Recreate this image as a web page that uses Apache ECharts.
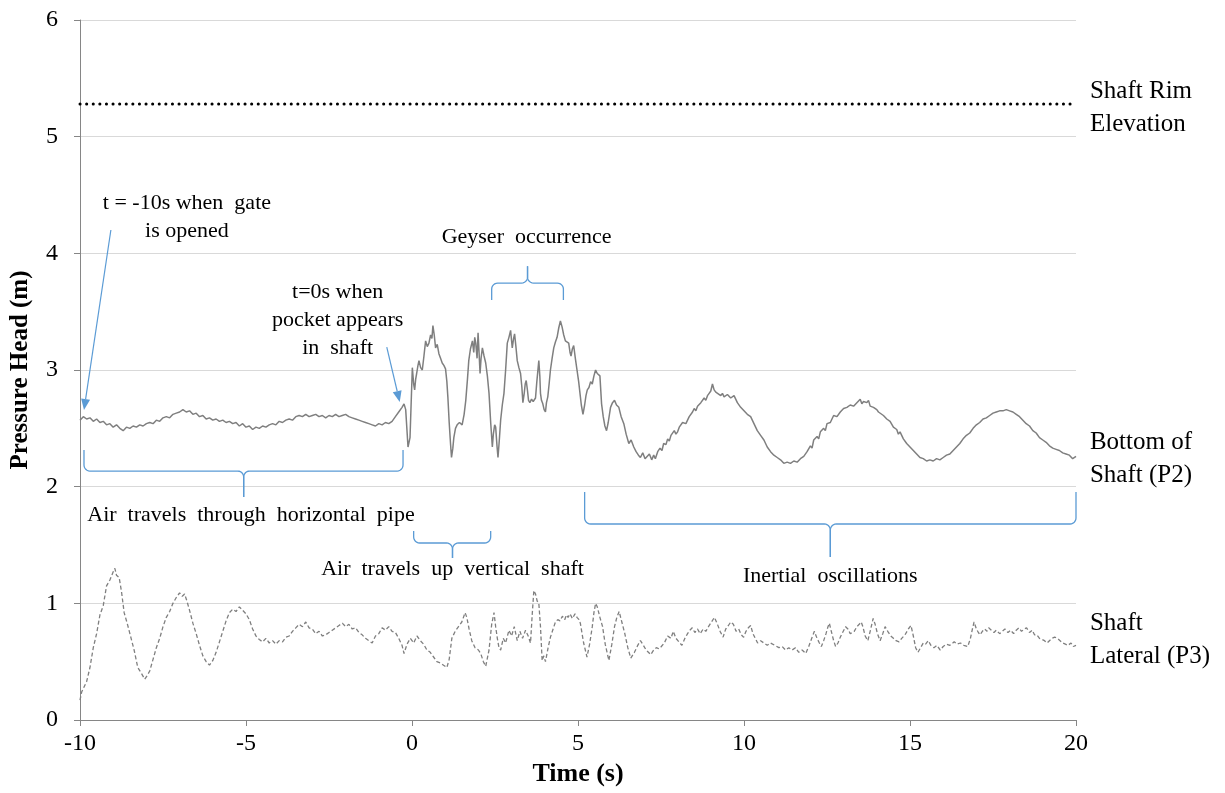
<!DOCTYPE html>
<html>
<head>
<meta charset="utf-8">
<script src="https://cdn.jsdelivr.net/npm/echarts@6/dist/echarts.min.js"></script>
<style>
  html, body { margin: 0; padding: 0; background: #ffffff; }
  #chart { width: 1225px; height: 793px; }
</style>
</head>
<body>
<div id="chart"></div>
<script>
// Pressure head records during the geyser test (time in s, head in m)
const rimElevation = 5.28;

const bottomOfShaftP2 = [
  [-10.0,2.57],[-9.9,2.60],[-9.8,2.58],[-9.7,2.59],[-9.6,2.56],[-9.5,2.58],[-9.4,2.55],[-9.3,2.56],[-9.2,2.53],[-9.1,2.54],
  [-9.0,2.51],[-8.9,2.53],[-8.8,2.50],[-8.7,2.48],[-8.6,2.51],[-8.5,2.50],[-8.4,2.52],[-8.3,2.51],[-8.2,2.53],[-8.1,2.52],
  [-8.0,2.54],[-7.9,2.55],[-7.8,2.54],[-7.7,2.57],[-7.6,2.56],[-7.5,2.59],[-7.4,2.60],[-7.3,2.59],[-7.2,2.62],[-7.1,2.63],
  [-7.0,2.64],[-6.9,2.66],[-6.8,2.64],[-6.7,2.65],[-6.6,2.62],[-6.5,2.63],[-6.4,2.60],[-6.3,2.61],[-6.2,2.58],[-6.1,2.59],
  [-6.0,2.57],[-5.9,2.58],[-5.8,2.56],[-5.7,2.57],[-5.6,2.55],[-5.5,2.56],[-5.4,2.54],[-5.3,2.55],[-5.2,2.52],[-5.1,2.54],
  [-5.0,2.51],[-4.9,2.52],[-4.8,2.49],[-4.7,2.51],[-4.6,2.50],[-4.5,2.52],[-4.4,2.51],[-4.3,2.53],[-4.2,2.54],[-4.1,2.53],
  [-4.0,2.56],[-3.9,2.55],[-3.8,2.57],[-3.7,2.58],[-3.6,2.57],[-3.5,2.60],[-3.4,2.61],[-3.3,2.60],[-3.2,2.62],[-3.1,2.60],
  [-3.0,2.61],[-2.9,2.62],[-2.8,2.60],[-2.7,2.61],[-2.6,2.59],[-2.5,2.61],[-2.4,2.60],[-2.3,2.62],[-2.2,2.60],[-2.1,2.61],
  [-2.0,2.62],[-1.9,2.60],[-1.8,2.59],[-1.7,2.58],[-1.6,2.57],[-1.5,2.56],[-1.4,2.55],[-1.3,2.54],[-1.2,2.53],[-1.1,2.52],
  [-1.0,2.54],[-0.9,2.53],[-0.8,2.55],[-0.7,2.54],[-0.6,2.56],[-0.5,2.60],[-0.4,2.64],[-0.3,2.68],[-0.24,2.71],[-0.19,2.66],
  [-0.12,2.34],[-0.06,2.42],[0.01,3.02],[0.05,2.88],[0.08,2.83],[0.11,2.92],[0.14,2.97],[0.18,3.04],[0.21,3.08],[0.26,3.02],
  [0.31,3.00],[0.36,3.12],[0.41,3.25],[0.46,3.20],[0.51,3.23],[0.56,3.30],[0.60,3.27],[0.63,3.38],[0.67,3.30],[0.71,3.19],
  [0.76,3.22],[0.81,3.14],[0.86,3.10],[0.91,3.06],[0.96,3.04],[1.01,3.01],[1.05,2.90],[1.08,2.77],[1.12,2.55],[1.16,2.37],
  [1.19,2.25],[1.23,2.33],[1.26,2.42],[1.31,2.50],[1.36,2.53],[1.43,2.55],[1.51,2.53],[1.57,2.62],[1.62,2.74],[1.67,2.92],
  [1.71,3.08],[1.76,3.18],[1.82,3.25],[1.86,3.15],[1.89,3.28],[1.92,3.23],[1.96,3.10],[1.99,3.32],[2.02,3.15],[2.05,2.97],
  [2.08,3.10],[2.12,3.19],[2.17,3.12],[2.22,3.06],[2.27,2.95],[2.32,2.80],[2.37,2.55],[2.42,2.34],[2.45,2.45],[2.49,2.53],
  [2.52,2.51],[2.56,2.35],[2.59,2.25],[2.63,2.40],[2.67,2.57],[2.72,2.70],[2.77,2.80],[2.82,3.00],[2.87,3.23],[2.92,3.28],
  [2.97,3.34],[3.00,3.25],[3.02,3.19],[3.06,3.27],[3.09,3.31],[3.13,3.20],[3.17,3.08],[3.22,3.02],[3.27,2.97],[3.31,2.85],
  [3.34,2.72],[3.38,2.80],[3.41,2.88],[3.44,2.91],[3.48,2.82],[3.51,2.74],[3.55,2.72],[3.60,2.75],[3.65,2.73],[3.72,2.76],
  [3.76,2.90],[3.80,3.02],[3.82,3.08],[3.85,2.95],[3.87,2.80],[3.90,2.74],[3.94,2.71],[3.98,2.66],[4.02,2.64],[4.05,2.72],
  [4.09,2.77],[4.13,2.88],[4.17,3.00],[4.22,3.10],[4.27,3.19],[4.32,3.24],[4.37,3.28],[4.42,3.36],[4.47,3.42],[4.50,3.41],
  [4.52,3.37],[4.57,3.30],[4.62,3.25],[4.67,3.26],[4.72,3.23],[4.76,3.15],[4.79,3.12],[4.83,3.18],[4.87,3.21],[4.92,3.10],
  [4.97,3.00],[5.02,2.90],[5.06,2.80],[5.10,2.70],[5.15,2.62],[5.20,2.70],[5.24,2.78],[5.28,2.83],[5.33,2.85],[5.38,2.90],
  [5.43,2.88],[5.48,2.95],[5.53,3.00],[5.58,2.97],[5.63,2.98],[5.66,2.95],[5.71,2.71],[5.76,2.60],[5.81,2.52],[5.86,2.48],
  [5.91,2.55],[5.98,2.68],[6.04,2.72],[6.10,2.74],[6.16,2.70],[6.23,2.68],[6.30,2.60],[6.38,2.54],[6.45,2.45],[6.53,2.37],
  [6.60,2.40],[6.68,2.34],[6.75,2.30],[6.82,2.27],[6.88,2.25],[6.95,2.29],[7.02,2.24],[7.08,2.25],[7.15,2.28],[7.22,2.23],
  [7.28,2.27],[7.33,2.24],[7.40,2.30],[7.47,2.33],[7.53,2.31],[7.58,2.37],[7.65,2.36],[7.7,2.41],[7.75,2.39],[7.8,2.44],
  [7.85,2.43],[7.9,2.48],[7.95,2.45],[8.0,2.47],[8.05,2.51],[8.1,2.50],[8.15,2.55],[8.2,2.56],[8.25,2.54],[8.3,2.57],
  [8.35,2.60],[8.4,2.59],[8.45,2.64],[8.5,2.67],[8.55,2.65],[8.6,2.69],[8.65,2.68],[8.7,2.72],[8.75,2.71],[8.8,2.76],
  [8.85,2.74],[8.9,2.78],[8.95,2.80],[9.0,2.82],[9.05,2.88],[9.1,2.83],[9.15,2.81],[9.2,2.80],[9.3,2.78],[9.35,2.80],
  [9.4,2.77],[9.5,2.79],[9.6,2.76],[9.7,2.78],[9.75,2.75],[9.8,2.72],[9.9,2.68],[10.0,2.65],[10.05,2.64],[10.1,2.62],
  [10.2,2.60],[10.3,2.54],[10.4,2.48],[10.5,2.44],[10.6,2.40],[10.7,2.34],[10.8,2.30],[10.85,2.31],[10.9,2.27],[11.0,2.25],
  [11.1,2.23],[11.2,2.20],[11.3,2.21],[11.4,2.20],[11.5,2.22],[11.6,2.21],[11.7,2.24],[11.8,2.26],[11.9,2.30],[12.0,2.35],
  [12.05,2.33],[12.1,2.40],[12.2,2.43],[12.25,2.41],[12.3,2.47],[12.4,2.50],[12.45,2.48],[12.5,2.54],[12.6,2.55],[12.65,2.58],
  [12.7,2.61],[12.8,2.60],[12.9,2.64],[13.0,2.67],[13.05,2.66],[13.1,2.68],[13.2,2.70],[13.3,2.69],[13.4,2.72],[13.5,2.75],
  [13.55,2.71],[13.6,2.73],[13.7,2.72],[13.75,2.74],[13.8,2.69],[13.9,2.68],[14.0,2.66],[14.05,2.64],[14.1,2.65],[14.2,2.61],
  [14.3,2.58],[14.4,2.56],[14.5,2.51],[14.6,2.49],[14.65,2.45],[14.7,2.47],[14.8,2.41],[14.9,2.37],[15.0,2.34],[15.1,2.31],
  [15.2,2.28],[15.3,2.25],[15.4,2.24],[15.5,2.22],[15.6,2.23],[15.7,2.22],[15.8,2.24],[15.9,2.23],[16.0,2.25],[16.1,2.27],
  [16.2,2.28],[16.3,2.31],[16.4,2.34],[16.5,2.37],[16.6,2.41],[16.7,2.44],[16.8,2.46],[16.9,2.50],[17.0,2.53],[17.1,2.55],
  [17.2,2.58],[17.3,2.59],[17.4,2.61],[17.5,2.63],[17.6,2.64],[17.7,2.65],[17.8,2.65],[17.9,2.66],[18.0,2.65],[18.1,2.64],
  [18.2,2.62],[18.3,2.60],[18.4,2.57],[18.5,2.54],[18.6,2.52],[18.7,2.48],[18.8,2.46],[18.9,2.42],[19.0,2.40],[19.1,2.38],
  [19.2,2.35],[19.3,2.33],[19.4,2.32],[19.5,2.31],[19.6,2.29],[19.7,2.28],[19.8,2.27],[19.9,2.24],[20.0,2.26]
];

const shaftLateralP3 = [
  [-10.0,0.17],[-9.95,0.24],[-9.9,0.27],[-9.8,0.33],[-9.7,0.45],[-9.6,0.62],[-9.5,0.74],[-9.4,0.90],[-9.3,0.98],[-9.2,1.15],
  [-9.1,1.20],[-9.0,1.27],[-8.95,1.30],[-8.9,1.24],[-8.82,1.22],[-8.75,1.10],[-8.67,0.92],[-8.57,0.82],[-8.47,0.71],[-8.37,0.60],
  [-8.26,0.45],[-8.15,0.40],[-8.05,0.35],[-7.98,0.38],[-7.9,0.42],[-7.8,0.52],[-7.7,0.62],[-7.6,0.70],[-7.5,0.80],[-7.4,0.88],
  [-7.3,0.93],[-7.2,1.00],[-7.1,1.05],[-7.0,1.09],[-6.92,1.06],[-6.85,1.08],[-6.78,1.02],[-6.7,0.94],[-6.6,0.83],[-6.5,0.74],
  [-6.4,0.64],[-6.3,0.55],[-6.2,0.50],[-6.1,0.47],[-6.0,0.51],[-5.9,0.58],[-5.8,0.67],[-5.7,0.76],[-5.6,0.85],[-5.5,0.92],
  [-5.4,0.95],[-5.3,0.93],[-5.2,0.97],[-5.1,0.94],[-5.0,0.91],[-4.9,0.86],[-4.8,0.78],[-4.7,0.72],[-4.6,0.69],[-4.5,0.67],
  [-4.4,0.70],[-4.3,0.66],[-4.2,0.68],[-4.1,0.65],[-4.0,0.68],[-3.9,0.67],[-3.8,0.71],[-3.7,0.72],[-3.6,0.76],[-3.5,0.79],
  [-3.4,0.82],[-3.3,0.80],[-3.2,0.84],[-3.1,0.79],[-3.0,0.78],[-2.9,0.74],[-2.8,0.76],[-2.7,0.72],[-2.6,0.73],[-2.5,0.75],
  [-2.4,0.77],[-2.3,0.79],[-2.2,0.81],[-2.1,0.83],[-2.0,0.80],[-1.9,0.82],[-1.8,0.78],[-1.7,0.79],[-1.6,0.75],[-1.5,0.73],
  [-1.4,0.70],[-1.3,0.68],[-1.2,0.66],[-1.1,0.72],[-1.0,0.74],[-0.9,0.79],[-0.8,0.77],[-0.7,0.80],[-0.6,0.76],[-0.5,0.75],
  [-0.4,0.70],[-0.3,0.64],[-0.24,0.57],[-0.15,0.65],[-0.05,0.70],[0.05,0.66],[0.15,0.72],[0.25,0.68],[0.35,0.65],[0.45,0.60],
  [0.55,0.58],[0.65,0.54],[0.75,0.50],[0.85,0.49],[0.95,0.47],[1.05,0.45],[1.12,0.52],[1.2,0.70],[1.3,0.76],[1.4,0.80],
  [1.5,0.84],[1.6,0.92],[1.65,0.88],[1.72,0.78],[1.8,0.68],[1.9,0.62],[2.0,0.60],[2.07,0.57],[2.15,0.50],[2.22,0.46],
  [2.27,0.45],[2.32,0.60],[2.4,0.82],[2.47,0.92],[2.52,0.80],[2.57,0.70],[2.62,0.62],[2.67,0.60],[2.75,0.70],[2.82,0.66],
  [2.92,0.77],[3.0,0.72],[3.08,0.80],[3.17,0.68],[3.25,0.76],[3.33,0.70],[3.42,0.77],[3.5,0.72],[3.57,0.66],[3.62,0.90],
  [3.67,1.11],[3.72,1.08],[3.77,1.02],[3.82,1.00],[3.87,0.80],[3.92,0.51],[3.97,0.55],[4.02,0.50],[4.1,0.62],[4.17,0.71],
  [4.25,0.78],[4.32,0.84],[4.39,0.86],[4.46,0.85],[4.53,0.89],[4.6,0.86],[4.65,0.90],[4.70,0.88],[4.76,0.91],[4.83,0.87],
  [4.91,0.91],[4.97,0.88],[5.03,0.86],[5.07,0.83],[5.17,0.66],[5.27,0.54],[5.35,0.65],[5.43,0.80],[5.48,0.92],[5.53,1.00],
  [5.58,0.97],[5.66,0.88],[5.74,0.80],[5.82,0.65],[5.93,0.51],[6.02,0.65],[6.10,0.80],[6.17,0.88],[6.24,0.93],[6.32,0.84],
  [6.41,0.74],[6.5,0.62],[6.59,0.53],[6.7,0.58],[6.8,0.64],[6.88,0.68],[6.97,0.64],[7.05,0.60],[7.12,0.58],[7.19,0.56],
  [7.28,0.60],[7.36,0.62],[7.44,0.61],[7.51,0.63],[7.6,0.66],[7.7,0.72],[7.8,0.70],[7.87,0.76],[7.95,0.70],[8.04,0.67],
  [8.13,0.64],[8.22,0.70],[8.3,0.74],[8.37,0.77],[8.44,0.79],[8.52,0.75],[8.6,0.78],[8.68,0.74],[8.77,0.78],[8.85,0.76],
  [8.93,0.80],[9.02,0.84],[9.11,0.88],[9.2,0.82],[9.28,0.76],[9.37,0.71],[9.45,0.78],[9.53,0.81],[9.6,0.84],[9.68,0.82],
  [9.76,0.76],[9.84,0.78],[9.92,0.73],[9.99,0.71],[10.06,0.76],[10.13,0.79],[10.2,0.81],[10.27,0.74],[10.34,0.70],[10.41,0.66],
  [10.5,0.68],[10.6,0.66],[10.7,0.64],[10.8,0.66],[10.93,0.64],[11.05,0.62],[11.15,0.63],[11.25,0.60],[11.35,0.62],[11.45,0.60],
  [11.55,0.62],[11.65,0.58],[11.75,0.60],[11.86,0.57],[11.95,0.63],[12.04,0.70],[12.12,0.76],[12.2,0.70],[12.27,0.66],[12.33,0.63],
  [12.4,0.68],[12.47,0.74],[12.53,0.80],[12.57,0.83],[12.63,0.76],[12.7,0.68],[12.76,0.63],[12.83,0.66],[12.9,0.71],[12.97,0.75],
  [13.06,0.80],[13.13,0.78],[13.2,0.74],[13.26,0.73],[13.32,0.76],[13.4,0.80],[13.47,0.82],[13.53,0.84],[13.58,0.80],[13.65,0.72],
  [13.73,0.68],[13.8,0.76],[13.89,0.87],[13.95,0.82],[14.02,0.74],[14.1,0.68],[14.18,0.74],[14.25,0.80],[14.33,0.76],[14.42,0.72],
  [14.5,0.70],[14.58,0.68],[14.67,0.67],[14.75,0.70],[14.85,0.73],[14.95,0.78],[15.03,0.81],[15.1,0.72],[15.17,0.62],[15.24,0.58],
  [15.32,0.62],[15.4,0.66],[15.47,0.65],[15.55,0.68],[15.63,0.64],[15.72,0.62],[15.81,0.64],[15.91,0.60],[16.0,0.63],[16.1,0.65],
  [16.2,0.64],[16.33,0.67],[16.42,0.65],[16.52,0.66],[16.62,0.64],[16.74,0.63],[16.82,0.70],[16.88,0.78],[16.93,0.84],[17.0,0.78],
  [17.06,0.75],[17.11,0.73],[17.18,0.76],[17.25,0.78],[17.32,0.76],[17.37,0.79],[17.45,0.77],[17.53,0.75],[17.6,0.77],[17.7,0.74],
  [17.78,0.76],[17.86,0.78],[17.95,0.75],[18.03,0.77],[18.12,0.74],[18.2,0.77],[18.28,0.79],[18.36,0.76],[18.44,0.78],[18.51,0.79],
  [18.6,0.75],[18.68,0.77],[18.75,0.73],[18.82,0.73],[18.9,0.70],[18.98,0.69],[19.05,0.68],[19.13,0.66],[19.2,0.68],[19.28,0.70],
  [19.36,0.71],[19.44,0.70],[19.52,0.68],[19.6,0.66],[19.68,0.65],[19.76,0.64],[19.85,0.66],[19.92,0.63],[20.0,0.64]
];

// Series labels drawn beside the right end of the plot
const seriesLabels = [
  { text: 'Shaft Rim\nElevation', t: 20.42, v: 5.245 },
  { text: 'Bottom of\nShaft (P2)', t: 20.42, v: 2.237 },
  { text: 'Shaft\nLateral (P3)', t: 20.42, v: 0.686 }
];

// Callout texts (anchored at their centre, in data units)
const callouts = [
  { text: 't = -10s when  gate\nis opened', t: -6.78, v: 4.31 },
  { text: 't=0s when\npocket appears\nin  shaft', t: -2.24, v: 3.43 },
  { text: 'Geyser  occurrence', t: 3.45, v: 4.14 },
  { text: 'Air  travels  through  horizontal  pipe', t: -4.85, v: 1.757 },
  { text: 'Air  travels  up  vertical  shaft', t: 1.22, v: 1.294 },
  { text: 'Inertial  oscillations', t: 12.6, v: 1.234 }
];

// Curly braces marking phases: ends at tEnd1/tEnd2, bar at vBar, tip at (tMid, vTip)
const braces = [
  { tEnd1: -9.88, tEnd2: -0.27, tMid: -5.07, vEnd: 2.314, vBar: 2.134, vTip: 1.911 },
  { tEnd1: 0.05,  tEnd2: 2.37,  tMid: 1.22,  vEnd: 1.62,  vBar: 1.517, vTip: 1.389 },
  { tEnd1: 2.40,  tEnd2: 4.56,  tMid: 3.48,  vEnd: 3.60,  vBar: 3.745, vTip: 3.89 },
  { tEnd1: 5.20,  tEnd2: 20.0,  tMid: 12.6,  vEnd: 1.954, vBar: 1.68,  vTip: 1.397 }
];

// Pointer arrows from callouts to the curve
const arrows = [
  { from: [-9.07, 4.2], to: [-9.88, 2.657] },
  { from: [-0.76, 3.197], to: [-0.37, 2.726] }
];

const serif = "'Liberation Serif', 'Times New Roman', serif";
const calloutBlue = '#5b9bd5';
const traceGrey = '#7f7f7f';

const chart = echarts.init(document.getElementById('chart'), null, { renderer: 'canvas' });

chart.setOption({
  animation: false,
  backgroundColor: '#ffffff',
  grid: { left: 79, right: 149, top: 20, bottom: 73, containLabel: false },
  xAxis: {
    type: 'value', min: -10, max: 20, interval: 5,
    name: 'Time (s)', nameLocation: 'middle', nameGap: 41,
    nameTextStyle: { fontFamily: serif, fontWeight: 'bold', fontSize: 26, color: '#000' },
    axisLine: { show: true, onZero: false, lineStyle: { color: '#868686', width: 1 } },
    axisTick: { show: true, length: 6, lineStyle: { color: '#868686' } },
    axisLabel: { fontFamily: serif, fontSize: 24, color: '#000', margin: 12 },
    splitLine: { show: false }
  },
  yAxis: {
    type: 'value', min: 0, max: 6, interval: 1,
    name: 'Pressure Head (m)', nameLocation: 'middle', nameGap: 47, nameRotate: 90,
    nameTextStyle: { fontFamily: serif, fontWeight: 'bold', fontSize: 25, color: '#000' },
    axisLine: { show: true, onZero: false, lineStyle: { color: '#868686', width: 1 } },
    axisTick: { show: true, length: 6, lineStyle: { color: '#868686' } },
    axisLabel: { fontFamily: serif, fontSize: 24, color: '#000', margin: 22 },
    splitLine: { show: true, lineStyle: { color: '#d9d9d9', width: 1 } }
  },
  series: [
    {
      name: 'Shaft Rim Elevation', type: 'line', showSymbol: false, silent: true,
      data: [[-10, rimElevation], [20, rimElevation]],
      lineStyle: { color: '#000000', width: 3, type: [0.1, 6.5], cap: 'round' }
    },
    {
      name: 'Bottom of Shaft (P2)', type: 'line', showSymbol: false, silent: true,
      data: bottomOfShaftP2,
      lineStyle: { color: traceGrey, width: 1.5 }
    },
    {
      name: 'Shaft Lateral (P3)', type: 'line', showSymbol: false, silent: true,
      data: shaftLateralP3,
      lineStyle: { color: traceGrey, width: 1.3, type: [4, 2.5] }
    }
  ]
});

const toPx = (t, v) => chart.convertToPixel({ gridIndex: 0 }, [t, v]);

function bracePoints(xe, xc, yEnd, yBar, yTip, r) {
  const d = Math.sign(xc - xe);
  const s = Math.sign(yTip - yBar);
  const pts = [[xe, yEnd]];
  const steps = 6;
  for (let i = 0; i <= steps; i++) {
    const a = (Math.PI / 2) * i / steps;
    pts.push([xe + d * r - d * r * Math.cos(a), yBar - s * r + s * r * Math.sin(a)]);
  }
  for (let i = 0; i <= steps; i++) {
    const a = (Math.PI / 2) * i / steps;
    pts.push([xc - d * r + d * r * Math.sin(a), yBar + s * r - s * r * Math.cos(a)]);
  }
  pts.push([xc, yTip]);
  return pts;
}

const graphics = [];

braces.forEach(b => {
  const [x1, yEnd] = toPx(b.tEnd1, b.vEnd);
  const [x2] = toPx(b.tEnd2, b.vEnd);
  const [xc, yBar] = toPx(b.tMid, b.vBar);
  const [, yTip] = toPx(b.tMid, b.vTip);
  const r = Math.min(6, Math.abs(yBar - yEnd) / 2, Math.abs(yTip - yBar) / 2);
  [x1, x2].forEach(xe => {
    graphics.push({
      type: 'polyline', silent: true,
      shape: { points: bracePoints(xe, xc, yEnd, yBar, yTip, r) },
      style: { stroke: calloutBlue, lineWidth: 1.3, fill: null }
    });
  });
});

arrows.forEach(a => {
  const p0 = toPx(a.from[0], a.from[1]);
  const p1 = toPx(a.to[0], a.to[1]);
  const dx = p1[0] - p0[0], dy = p1[1] - p0[1];
  const len = Math.hypot(dx, dy);
  const ux = dx / len, uy = dy / len;
  const head = 11, half = 4.5;
  const bx = p1[0] - ux * head, by = p1[1] - uy * head;
  graphics.push({
    type: 'line', silent: true,
    shape: { x1: p0[0], y1: p0[1], x2: bx, y2: by },
    style: { stroke: calloutBlue, lineWidth: 1.2 }
  });
  graphics.push({
    type: 'polygon', silent: true,
    shape: { points: [[p1[0], p1[1]], [bx - uy * half, by + ux * half], [bx + uy * half, by - ux * half]] },
    style: { fill: calloutBlue }
  });
});

callouts.forEach(c => {
  const [x, y] = toPx(c.t, c.v);
  graphics.push({
    type: 'text', silent: true, x: x, y: y,
    style: {
      text: c.text, fill: '#000', fontFamily: serif, fontSize: 22, lineHeight: 28,
      align: 'center', verticalAlign: 'middle', textAlign: 'center', textVerticalAlign: 'middle'
    }
  });
});

seriesLabels.forEach(c => {
  const [x, y] = toPx(c.t, c.v);
  graphics.push({
    type: 'text', silent: true, x: x, y: y,
    style: {
      text: c.text, fill: '#000', fontFamily: serif, fontSize: 25, lineHeight: 33,
      align: 'left', verticalAlign: 'middle', textAlign: 'left', textVerticalAlign: 'middle'
    }
  });
});

chart.setOption({ graphic: graphics });
</script>
</body>
</html>
